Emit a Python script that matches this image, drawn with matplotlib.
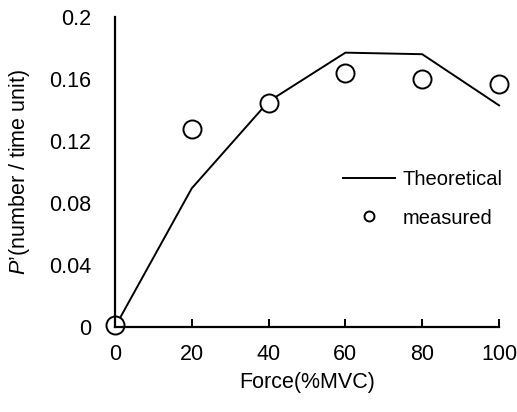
import numpy as np
import matplotlib.pyplot as plt

plt.rcParams['font.family'] = ['Liberation Sans', 'DejaVu Sans']
plt.rcParams['mathtext.fontset'] = 'custom'
plt.rcParams['mathtext.it'] = 'Liberation Sans:italic'
plt.rcParams['mathtext.rm'] = 'Liberation Sans'

force = [0, 20, 40, 60, 80, 100]
theoretical = [0.0, 0.0895, 0.1455, 0.177, 0.176, 0.143]
measured = [0.0015, 0.1275, 0.1447, 0.164, 0.160, 0.1566]

fig = plt.figure(figsize=(5.17, 4.12), dpi=100)
ax = fig.add_axes([115 / 517, 85 / 412, 384 / 517, 310 / 412])

ax.plot(force, theoretical, color='black', lw=1.4, label='Theoretical')
ax.plot(force, measured, ls='none', marker='o', ms=13, mfc='white', mec='black',
        mew=1.4, label='measured')

ax.set_xlim(0, 100)
ax.set_ylim(0, 0.2)
ax.set_xticks([0, 20, 40, 60, 80, 100])
ax.set_yticks([0, 0.04, 0.08, 0.12, 0.16, 0.2])
ax.set_yticklabels(['0', '0.04', '0.08', '0.12', '0.16', '0.2'])
ax.tick_params(axis='x', direction='in', length=6, width=1.4, labelsize=15.5, pad=12)
ax.tick_params(axis='y', length=0, labelsize=15.5, pad=17)
for s in ['top', 'right']:
    ax.spines[s].set_visible(False)
for s in ['left', 'bottom']:
    ax.spines[s].set_linewidth(1.6)

ax.set_xlabel('Force(%MVC)', fontsize=15.5, labelpad=5.5)
ax.set_ylabel(r"$\mathit{P}$’(number / time unit)", fontsize=15.5, labelpad=12)

ax.legend(loc='center left', bbox_to_anchor=(0.594, 0.413), frameon=False, fontsize=14.5,
          handlelength=2.6, markerscale=0.55, labelspacing=0.95, handletextpad=0.35,
          borderpad=0, borderaxespad=0)

ax.patch.set_visible(False)
for l in ax.lines:
    l.set_clip_on(False)

fig.savefig('out.png', dpi=100)
